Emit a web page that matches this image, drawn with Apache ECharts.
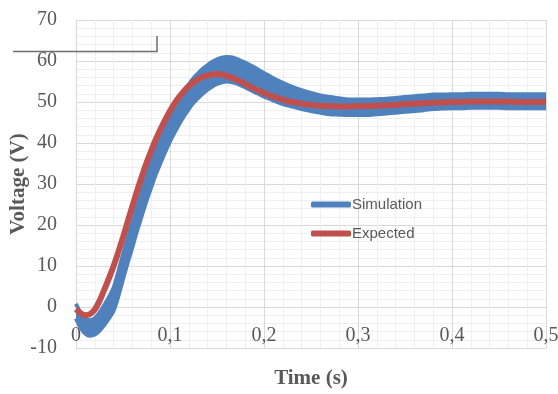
<!DOCTYPE html>
<html>
<head>
<meta charset="utf-8">
<script src="https://cdn.jsdelivr.net/npm/echarts@6/dist/echarts.min.js"></script>
<style>
html,body{margin:0;padding:0;background:#fff;}
#chart{width:558px;height:394px;}
</style>
</head>
<body>
<div id="chart"></div>
<script>
// Time (s)
const times = [0,0.005,0.01,0.015,0.02,0.025,0.03,0.035,0.04,0.045,0.05,0.055,0.06,0.065,0.07,0.075,0.08,0.085,0.09,0.095,
  0.1,0.105,0.11,0.115,0.12,0.125,0.13,0.135,0.14,0.145,0.15,0.155,0.16,0.165,0.17,0.175,0.18,0.185,0.19,0.195,
  0.2,0.21,0.22,0.23,0.24,0.25,0.26,0.27,0.28,0.29,0.3,0.31,0.32,0.33,0.34,0.35,0.36,0.37,0.38,0.39,
  0.4,0.41,0.42,0.43,0.44,0.45,0.46,0.47,0.48,0.49,0.5];

// Expected voltage (V)
const expected = [-0.5,-1.5,-2.0,-1.7,-0.6,1.5,4.2,7.0,10.0,13.4,17.0,20.8,24.6,28.3,31.8,35.1,38.1,40.9,43.4,45.7,
  47.8,49.7,51.3,52.7,53.9,54.8,55.6,56.1,56.5,56.7,56.8,56.7,56.4,56.0,55.5,55.0,54.4,53.8,53.2,52.7,
  52.2,51.3,50.6,50.0,49.6,49.3,49.1,49.0,48.9,48.9,49.0,49.0,49.1,49.2,49.3,49.5,49.6,49.7,49.8,49.9,
  50.0,50.0,50.1,50.1,50.1,50.1,50.1,50.0,50.0,50.0,50.0];

// Simulation ripple envelope (V): lower and upper edges
const simLower = [-2.8,-5.1,-6.5,-7.0,-6.7,-5.8,-4.4,-2.8,-0.9,2.6,6.8,10.8,14.6,18.6,22.3,25.9,29.2,32.4,35.2,37.9,
  40.4,42.6,44.7,46.6,48.3,49.8,51.0,52.1,53.0,53.8,54.4,54.8,55.0,54.9,54.6,54.1,53.6,53.0,52.4,51.9,
  51.3,50.4,49.5,48.9,48.3,47.8,47.4,47.0,46.9,46.8,46.8,46.8,47.0,47.2,47.4,47.6,47.8,48.0,48.3,48.4,
  48.5,48.5,48.6,48.6,48.6,48.6,48.5,48.5,48.5,48.5,48.5];
const simUpper = [0.8,-1.5,-2.9,-3.2,-2.7,-1.4,0.4,2.4,4.7,8.6,12.8,16.8,20.6,24.6,28.3,31.9,35.2,38.4,41.2,43.9,
  46.4,48.6,50.7,52.6,54.3,55.8,57.0,58.1,59.0,59.8,60.4,60.8,61.0,60.9,60.6,60.1,59.6,59.0,58.4,57.7,
  57.1,55.8,54.7,53.7,52.9,52.2,51.6,51.2,50.9,50.6,50.6,50.6,50.7,50.8,51.0,51.2,51.4,51.6,51.8,51.8,
  51.9,51.9,52.0,52.0,52.0,52.0,51.9,51.9,51.9,51.9,51.9];

const xTicks = [0,0.1,0.2,0.3,0.4,0.5];
const xTickLabels = ['0','0,1','0,2','0,3','0,4','0,5'];

const BLUE = '#4f81bd';
const RED = '#c0504d';
const GREY = '#595959';

const lowData = times.map((t,i)=>[t, simLower[i]]);
const upData = times.map((t,i)=>[t, simUpper[i]]);
const bandData = times.map((t,i)=>[t, simLower[i], simUpper[i]]);
const expData = times.map((t,i)=>[t, expected[i]]);

const chart = echarts.init(document.getElementById('chart'), null, {renderer:'canvas'});
chart.setOption({
  animation:false,
  backgroundColor:'#fff',
  grid:{left:76, right:12, top:20, bottom:46, outerBoundsMode:'none', containLabel:false},
  legend:{
    data:['Simulation','Expected'],
    orient:'vertical',
    left:306, top:192,
    icon:'roundRect',
    itemWidth:40, itemHeight:6,
    itemGap:14,
    textStyle:{fontFamily:'Liberation Sans', fontSize:15, color:GREY, padding:[0,0,0,-4]}
  },
  xAxis:{
    type:'value', min:0, max:0.5, interval:0.1,
    name:'Time (s)', nameLocation:'middle', nameGap:20, nameMoveOverlap:false,
    nameTextStyle:{fontFamily:'Liberation Serif', fontWeight:'bold', fontSize:21, color:GREY},
    axisLine:{show:true, onZero:false, lineStyle:{color:'#d9d9d9', width:1}},
    axisTick:{show:false},
    axisLabel:{margin:-22, fontFamily:'Liberation Serif', fontSize:20, color:GREY,
      formatter:(v)=>{const k=xTicks.findIndex(x=>Math.abs(x-v)<1e-9); return k>=0?xTickLabels[k]:'';}},
    splitLine:{show:true, lineStyle:{color:'#d9d9d9', width:1}},
    minorTick:{show:false, splitNumber:5},
    minorSplitLine:{show:true, lineStyle:{color:'#efefef', width:1}}
  },
  yAxis:{
    type:'value', min:-10, max:70, interval:10,
    name:'Voltage (V)', nameLocation:'middle', nameGap:47, nameMoveOverlap:false,
    nameTextStyle:{fontFamily:'Liberation Serif', fontWeight:'bold', fontSize:21, color:GREY},
    axisLine:{show:true, lineStyle:{color:'#d9d9d9', width:1}},
    axisTick:{show:false},
    axisLabel:{margin:19, fontFamily:'Liberation Serif', fontSize:20, color:GREY},
    splitLine:{show:true, lineStyle:{color:'#d9d9d9', width:1}},
    minorTick:{show:false, splitNumber:5},
    minorSplitLine:{show:true, lineStyle:{color:'#efefef', width:1}}
  },
  graphic:[{
    type:'polyline', z:100,
    shape:{points:[[13,51.5],[157,51.5],[157,36]]},
    style:{stroke:'#6e6e6e', lineWidth:1.5, fill:null}
  }],
  series:[
    {name:'SimBand', type:'custom', data:bandData, z:2, clip:true,
      encode:{x:0, y:[1,2]},
      renderItem:function(params, api){
        if(params.dataIndex!==0) return null;
        const pts=[];
        for(let i=0;i<bandData.length;i++) pts.push(api.coord([bandData[i][0], bandData[i][2]]));
        for(let i=bandData.length-1;i>=0;i--) pts.push(api.coord([bandData[i][0], bandData[i][1]]));
        return {type:'polygon', shape:{points:pts}, style:{fill:BLUE, stroke:null}};
      }},
    {name:'SimLow', type:'line', data:lowData,
      showSymbol:false, symbol:'none', smooth:0.3,
      lineStyle:{color:BLUE, width:4}, itemStyle:{color:BLUE}, z:2},
    {name:'Simulation', type:'line', data:upData,
      showSymbol:false, symbol:'none', smooth:0.3,
      lineStyle:{color:BLUE, width:4}, itemStyle:{color:BLUE}, z:2},
    {name:'Expected', type:'line', data:expData,
      showSymbol:false, symbol:'none', smooth:0.3,
      lineStyle:{color:RED, width:6}, itemStyle:{color:RED}, z:3}
  ]
});
</script>
</body>
</html>
